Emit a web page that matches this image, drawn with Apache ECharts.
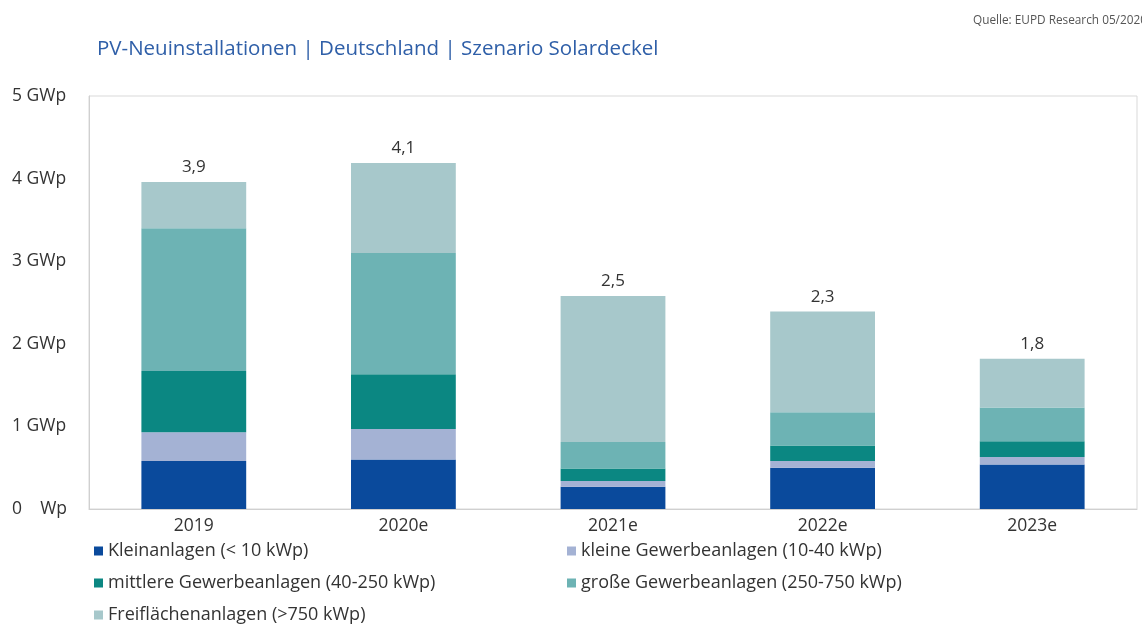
<!DOCTYPE html>
<html>
<head>
<meta charset="utf-8">
<script src="https://cdn.jsdelivr.net/npm/echarts@6/dist/echarts.min.js"></script>
<style>
  html, body { margin: 0; padding: 0; background: #fff; }
  #main { width: 1142px; height: 626px; }
</style>
</head>
<body>
<div id="main"></div>
<script>
// Jahre (e = Erwartung)
var years = ['2019', '2020e', '2021e', '2022e', '2023e'];

// GWp je Segment, von unten nach oben
var klein     = [0.58, 0.60, 0.27, 0.50, 0.54];
var kleineGew = [0.35, 0.37, 0.07, 0.08, 0.09];
var mittlere  = [0.74, 0.66, 0.15, 0.19, 0.19];
var grosse    = [1.73, 1.47, 0.32, 0.40, 0.41];
var frei      = [0.56, 1.09, 1.77, 1.22, 0.59];

// Summenbeschriftung wie im Original
var totals = ['3,9', '4,1', '2,5', '2,3', '1,8'];

var seriesNames = [
    'Kleinanlagen (< 10 kWp)',
    'kleine Gewerbeanlagen (10-40 kWp)',
    'mittlere Gewerbeanlagen (40-250 kWp)',
    'große Gewerbeanlagen (250-750 kWp)',
    'Freiflächenanlagen (>750 kWp)'
];
var colors = ['#0a4a9c', '#a4b2d4', '#0b8782', '#6db3b4', '#a7c8cb'];
var values = [klein, kleineGew, mittlere, grosse, frei];

var fontFamily = '"Open Sans", sans-serif';

var myChart = echarts.init(document.getElementById('main'));

var series = values.map(function (arr, i) {
    var s = {
        name: seriesNames[i],
        type: 'bar',
        stack: 'total',
        data: arr,
        barWidth: '50%',
        itemStyle: { color: colors[i] },
        emphasis: { disabled: true }
    };
    if (i === values.length - 1) {
        s.label = {
            show: true,
            position: 'top',
            distance: 6,
            color: '#333',
            fontSize: 17,
            fontFamily: fontFamily,
            formatter: function (p) { return totals[p.dataIndex]; }
        };
    }
    return s;
});

var legendText = { color: '#333', fontSize: 18, fontFamily: fontFamily, lineHeight: 20 };

myChart.setOption({
    animation: false,
    color: colors,
    title: [
        {
            text: 'PV-Neuinstallationen | Deutschland | Szenario Solardeckel',
            left: 92,
            top: 34,
            textStyle: { color: '#2f5fa8', fontSize: 20.5, fontWeight: 'normal', fontFamily: fontFamily }
        },
        {
            text: 'Quelle: EUPD Research 05/2020',
            left: 968,
            top: 10,
            textStyle: { color: '#555', fontSize: 11.8, fontWeight: 'normal', fontFamily: fontFamily }
        }
    ],
    legend: [
        {
            data: [seriesNames[0], seriesNames[2], seriesNames[4]],
            orient: 'vertical',
            left: 94,
            top: 541,
            height: 90,
            padding: 0,
            itemWidth: 9,
            itemHeight: 9,
            itemGap: 12,
            icon: 'rect',
            textStyle: legendText
        },
        {
            data: [seriesNames[1], seriesNames[3]],
            orient: 'vertical',
            left: 567,
            top: 541,
            height: 90,
            padding: 0,
            itemWidth: 9,
            itemHeight: 9,
            itemGap: 12,
            icon: 'rect',
            textStyle: legendText
        }
    ],
    grid: {
        left: 89,
        right: 5,
        top: 96,
        bottom: 117,
        show: true,
        borderColor: '#d9d9d9',
        borderWidth: 1
    },
    xAxis: {
        type: 'category',
        data: years,
        axisLine: { show: true, lineStyle: { color: '#d0d0d0' } },
        axisTick: { show: false },
        axisLabel: { color: '#333', fontSize: 17.5, fontFamily: fontFamily, margin: 8 }
    },
    yAxis: {
        type: 'value',
        min: 0,
        max: 5,
        interval: 1,
        splitLine: { show: false },
        axisLine: { show: true, lineStyle: { color: '#d0d0d0' } },
        axisTick: { show: false },
        axisLabel: {
            color: '#333',
            fontSize: 17.5,
            fontFamily: fontFamily,
            align: 'left',
            margin: 77,
            formatter: function (v) { return v === 0 ? '0    Wp' : v + ' GWp'; }
        }
    },
    series: series
});
</script>
</body>
</html>
